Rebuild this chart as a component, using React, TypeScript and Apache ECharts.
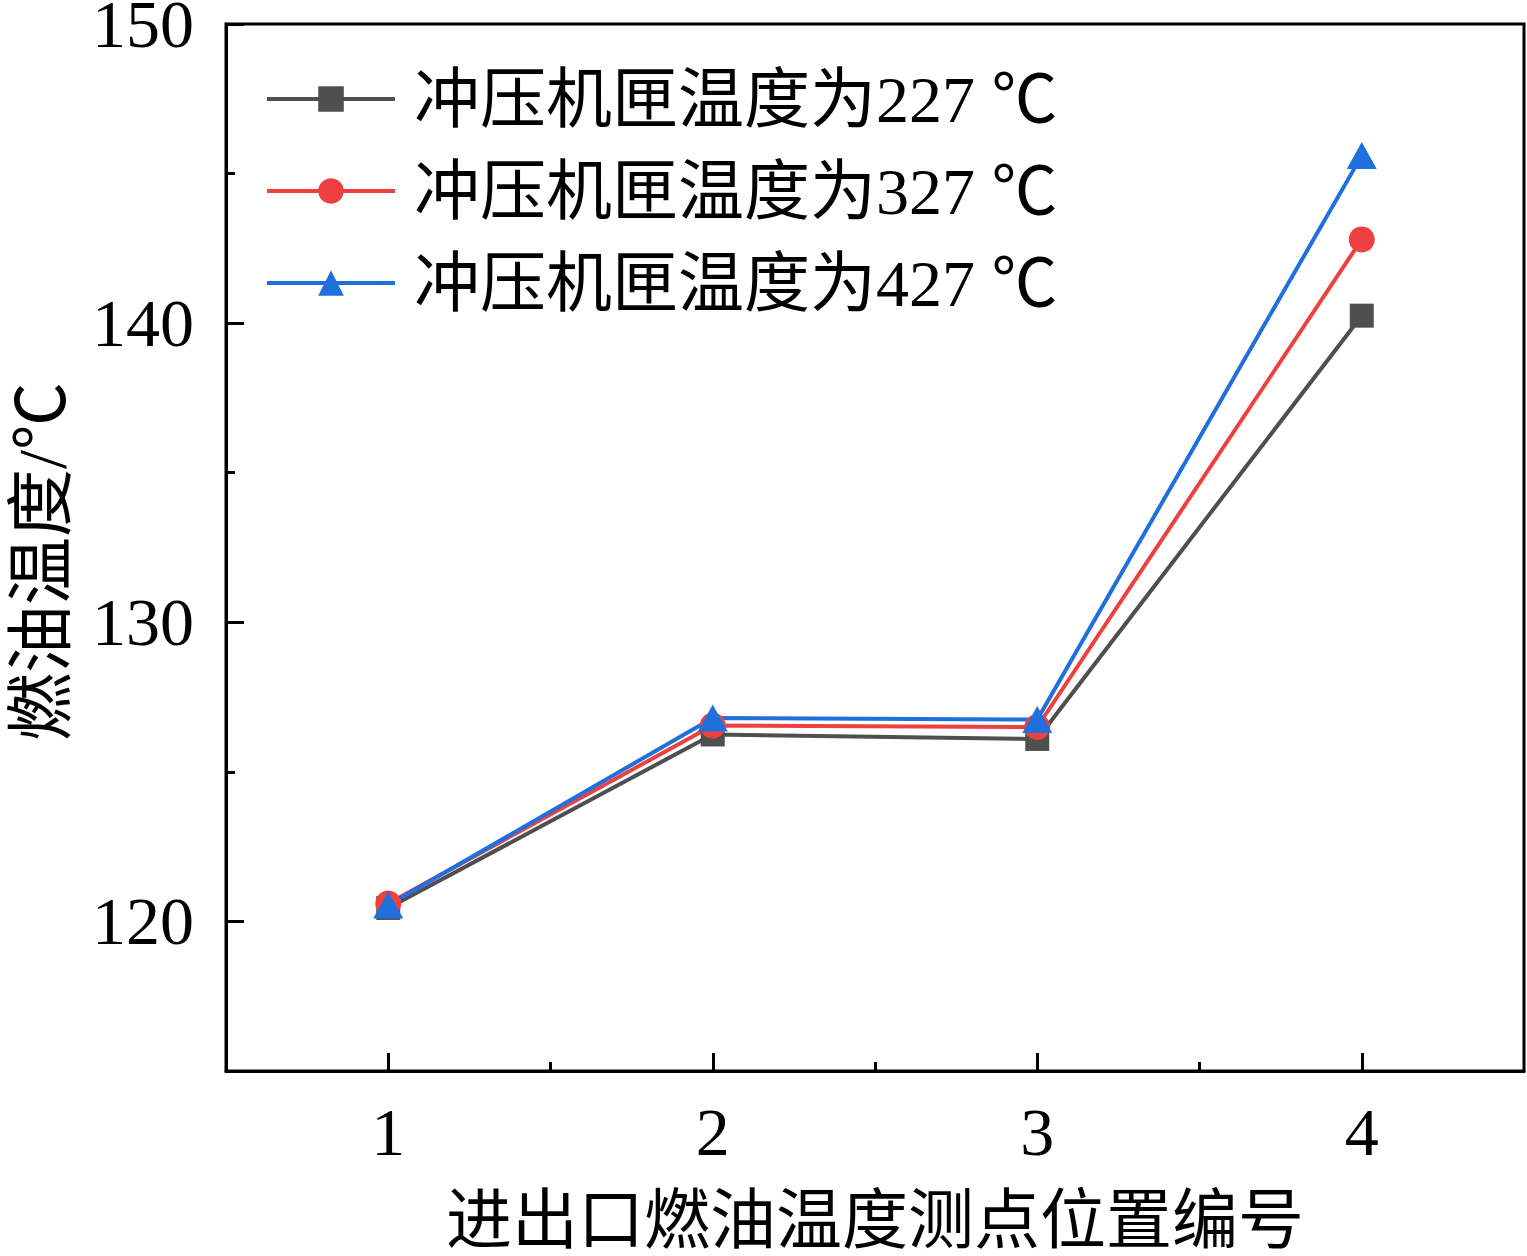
import React, { useEffect, useRef } from "react";
import * as echarts from "echarts";

const positions = [1, 2, 3, 4];
const xTickValues = [1, 2, 3, 4];
const xMinorTicks = [1.5, 2.5, 3.5];
const yTickValues = [120, 130, 140, 150];
const yMinorTicks = [125, 135, 145];
const seriesNames = ["冲压机匣温度为227 ℃", "冲压机匣温度为327 ℃", "冲压机匣温度为427 ℃"];
const temp227 = [120.45, 126.25, 126.1, 140.25];
const temp327 = [120.6, 126.55, 126.5, 142.8];
const temp427 = [120.55, 126.8, 126.75, 145.6];
const xTitle = "进出口燃油温度测点位置编号";
const yTitle = "燃油温度/℃";

const FONT = "'Liberation Serif', 'Times New Roman', 'Noto Sans CJK SC', serif";

export default function App() {
  const ref = useRef<HTMLDivElement>(null);
  useEffect(() => {
    document.body.style.margin = "0";
    if (!ref.current) return;
    const chart = echarts.init(ref.current, undefined, { renderer: "svg" });
    const pair = (vals: number[]) => positions.map((p, i) => [p, vals[i]]);
    const mk = (name: string, vals: number[], color: string, symbol: string, size: number | number[]) => ({
      name,
      type: "line",
      data: pair(vals),
      symbol,
      symbolSize: size,
      lineStyle: { color, width: 4 },
      itemStyle: { color },
      z: 3,
    });
    chart.setOption({
      animation: false,
      backgroundColor: "#fff",
      grid: {
        left: 226,
        right: 3,
        top: 24,
        bottom: 185,
        show: true,
        borderColor: "#000",
        borderWidth: 3,
        backgroundColor: "transparent",
        containLabel: false,
        outerBoundsMode: "none",
      },
      legend: {
        orient: "vertical",
        left: 265,
        top: 64,
        padding: 0,
        itemWidth: 128,
        itemHeight: 32,
        itemGap: 22,
        lineStyle: { width: 4 },
        textStyle: {
          fontFamily: FONT,
          fontSize: 66,
          color: "#000",
          padding: [0, 0, 0, 14],
          lineHeight: 70,
        },
        data: seriesNames,
      },
      xAxis: [
        {
          type: "value",
          min: 0.5,
          max: 4.5,
          position: "bottom",
          name: xTitle,
          nameLocation: "middle",
          nameGap: 116,
          nameTextStyle: { fontFamily: FONT, fontSize: 66, lineHeight: 66, color: "#000" },
          axisLine: { show: true, lineStyle: { color: "#000", width: 3 } },
          axisTick: { show: true, inside: true, length: 18, lineStyle: { color: "#000", width: 3 }, customValues: xTickValues },
          axisLabel: { fontFamily: FONT, fontSize: 68, color: "#000", margin: 27, customValues: xTickValues },
          splitLine: { show: false },
        },
        {
          type: "value",
          min: 0.5,
          max: 4.5,
          position: "bottom",
          axisLine: { show: false },
          axisTick: { show: true, inside: true, length: 9, lineStyle: { color: "#000", width: 3 }, customValues: xMinorTicks },
          axisLabel: { show: false },
          splitLine: { show: false },
        },
      ],
      yAxis: [
        {
          type: "value",
          min: 115,
          max: 150,
          position: "left",
          name: yTitle,
          nameLocation: "middle",
          nameRotate: 90,
          nameGap: 150,
          nameTextStyle: { fontFamily: FONT, fontSize: 68, color: "#000", padding: [0, 28, 0, 0] },
          axisLine: { show: true, lineStyle: { color: "#000", width: 3 } },
          axisTick: { show: true, inside: true, length: 18, lineStyle: { color: "#000", width: 3 }, customValues: yTickValues },
          axisLabel: { fontFamily: FONT, fontSize: 68, lineHeight: 50, color: "#000", margin: 32, padding: [4, 0, 0, 0], customValues: yTickValues },
          splitLine: { show: false },
        },
        {
          type: "value",
          min: 115,
          max: 150,
          position: "left",
          axisLine: { show: false },
          axisTick: { show: true, inside: true, length: 9, lineStyle: { color: "#000", width: 3 }, customValues: yMinorTicks },
          axisLabel: { show: false },
          splitLine: { show: false },
        },
      ],
      series: [
        mk(seriesNames[0], temp227, "#4f4f4f", "rect", 24),
        mk(seriesNames[1], temp327, "#ef4040", "circle", 26),
        mk(seriesNames[2], temp427, "#1f6fdc", "triangle", [30, 27]),
      ],
    });
    return () => chart.dispose();
  }, []);
  return <div ref={ref} style={{ position: "absolute", left: 0, top: 0, width: 1527, height: 1256 }} />;
}
